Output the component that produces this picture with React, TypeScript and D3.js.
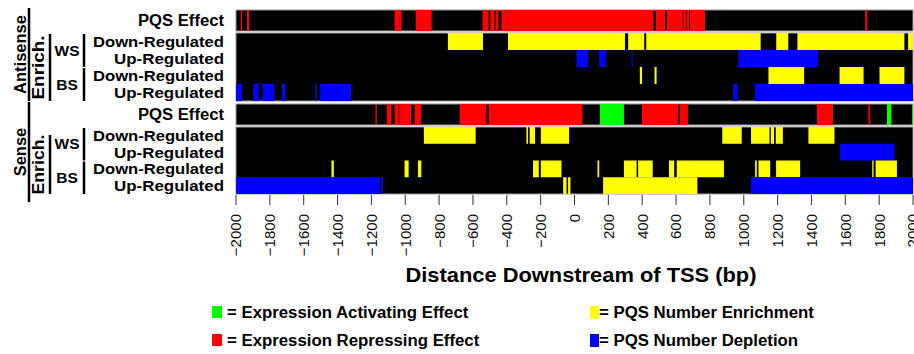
import React from 'react';
import * as d3 from 'd3';

// segments are [start, end] in bp relative to TSS
const asPqsRepressing: [number, number][] = [
  [-1972, -1964], [-1935, -1922], [-1063, -1022], [-938, -844], [-543, -508],
  [-497, -473], [-466, -449], [-432, 467], [481, 535], [546, 639], [643, 658],
  [662, 677], [682, 771], [1718, 1730],
];
const asPqsActivating: [number, number][] = [];

const asWsDownEnrich: [number, number][] = [
  [-748, -541], [-393, 298], [317, 412], [424, 1100], [1192, 1263], [1317, 1949], [1971, 2000],
];
const asWsUpDeplete: [number, number][] = [[12, 80], [146, 185], [337, 343], [968, 1438]];
const asBsDownEnrich: [number, number][] = [
  [386, 399], [473, 485], [1146, 1357], [1566, 1708], [1802, 1949],
];
const asBsUpDeplete: [number, number][] = [
  [-2000, -1965], [-1898, -1866], [-1842, -1773], [-1728, -1708], [-1531, -1523],
  [-1503, -1320], [938, 964], [1067, 2000],
];

const ssPqsRepressing: [number, number][] = [
  [-1176, -1168], [-1109, -1083], [-1063, -1040], [-1036, -965], [-945, -906],
  [-679, -521], [-507, 47], [398, 613], [623, 670], [1432, 1527], [1737, 1747],
];
const ssPqsActivating: [number, number][] = [[150, 292], [1846, 1872], [1995, 2000]];

const ssWsDownEnrich: [number, number][] = [
  [-890, -584], [-284, -275], [-265, -233], [-199, -32], [873, 988], [1043, 1152],
  [1160, 1179], [1189, 1231], [1382, 1536],
];
const ssWsUpDeplete: [number, number][] = [[1568, 1891]];
const ssBsDownEnrich: [number, number][] = [
  [-1436, -1422], [-1004, -980], [-925, -905], [-245, -211], [-199, -77], [136, 146],
  [292, 367], [376, 462], [558, 589], [604, 883], [1067, 1077], [1087, 1156],
  [1191, 1333], [1759, 1767], [1779, 1905],
];
const ssBsUpEnrich: [number, number][] = [[-67, -47], [-38, -24], [169, 726]];
const ssBsUpDeplete: [number, number][] = [[-2000, -1152], [-1142, -1132], [1043, 2000]];

const rowNames = ['Down-Regulated', 'Up-Regulated', 'Down-Regulated', 'Up-Regulated'];
const tickValues = d3.range(-2000, 2001, 200);

const COL = { green: '#00ff00', red: '#ff0000', yellow: '#ffff00', blue: '#0000ff' };

const legendItems = [
  { label: '= Expression Activating Effect', color: COL.green, col: 0, row: 0 },
  { label: '= Expression Repressing Effect', color: COL.red, col: 0, row: 1 },
  { label: '= PQS Number Enrichment', color: COL.yellow, col: 1, row: 0 },
  { label: '= PQS Number Depletion', color: COL.blue, col: 1, row: 1 },
];

const FONT = 'Liberation Sans, Arial, Helvetica, sans-serif';

export default function App() {
  const width = 914, height = 354;
  const x = d3.scaleLinear().domain([-2000, 2000]).range([236, 913]);

  const blocks = [
    {
      name: 'Antisense', pqsTop: 10, pqsBot: 31, enTop: 33, enBot: 101,
      pqs: [asPqsRepressing, asPqsActivating],
      rows: [
        [[asWsDownEnrich, COL.yellow]],
        [[asWsUpDeplete, COL.blue]],
        [[asBsDownEnrich, COL.yellow]],
        [[asBsUpDeplete, COL.blue]],
      ] as [[number, number][], string][][],
    },
    {
      name: 'Sense', pqsTop: 104, pqsBot: 125, enTop: 127, enBot: 194,
      pqs: [ssPqsRepressing, ssPqsActivating],
      rows: [
        [[ssWsDownEnrich, COL.yellow]],
        [[ssWsUpDeplete, COL.blue]],
        [[ssBsDownEnrich, COL.yellow]],
        [[ssBsUpEnrich, COL.yellow], [ssBsUpDeplete, COL.blue]],
      ] as [[number, number][], string][][],
    },
  ];

  const seg = (s: [number, number], y0: number, h: number, c: string, k: string) => (
    <rect key={k} x={x(s[0])} y={y0} width={Math.max(0.8, x(s[1]) - x(s[0]))} height={h} fill={c} />
  );

  return (
    <svg width={width} height={height} style={{ display: 'block', position: 'absolute', left: 0, top: 0 }}
      fontFamily={FONT}>
      <rect width={width} height={height} fill="#fff" />
      {blocks.map((b, bi) => {
        const band = d3.scaleBand<number>().domain([0, 1, 2, 3]).range([b.enTop, b.enBot]);
        const bw = band.bandwidth();
        return (
          <g key={bi}>
            {/* PQS effect strip */}
            <rect x={x(-2000)} y={b.pqsTop} width={x(2000) - x(-2000)} height={b.pqsBot - b.pqsTop}
              fill="#000" stroke="#9a9a9a" strokeWidth={1} />
            {b.pqs[0].map((s, i) => seg(s, b.pqsTop, b.pqsBot - b.pqsTop, COL.red, 'r' + i))}
            {b.pqs[1].map((s, i) => seg(s, b.pqsTop, b.pqsBot - b.pqsTop, COL.green, 'g' + i))}
            <text x={224} y={(b.pqsTop + b.pqsBot) / 2} dy="0.36em" textAnchor="end"
              fontSize={16} fontWeight="bold" textLength={86} lengthAdjust="spacingAndGlyphs">PQS Effect</text>

            {/* enrichment strip */}
            <rect x={x(-2000)} y={b.enTop} width={x(2000) - x(-2000)} height={b.enBot - b.enTop}
              fill="#000" stroke="#9a9a9a" strokeWidth={1} />
            {b.rows.map((r, ri) =>
              r.map(([segs, c], si) =>
                segs.map((s, i) => seg(s, band(ri)!, bw, c, `${ri}-${si}-${i}`))
              )
            )}
            {rowNames.map((n, ri) => (
              <text key={ri} x={224} y={band(ri)! + bw / 2} dy="0.36em" textAnchor="end"
                fontSize={15.5} fontWeight="bold" textLength={ri % 2 ? 110 : 131}
                lengthAdjust="spacingAndGlyphs">{n}</text>
            ))}

            {/* bracket labels */}
            <line x1={29} x2={29} y1={b.pqsTop - 2} y2={b.enBot + (bi ? 8 : 0)} stroke="#000" strokeWidth={2.5} />
            <text transform={`translate(20,${(b.pqsTop - 2 + b.enBot + (bi ? 8 : 0)) / 2}) rotate(-90)`}
              dy="0.36em" textAnchor="middle" fontSize={16.5} fontWeight="bold">{b.name}</text>
            <line x1={50} x2={50} y1={b.enTop + (bi ? 8 : 1)} y2={b.enBot} stroke="#000" strokeWidth={2.5} />
            <text transform={`translate(38,${(b.enTop + (bi ? 8 : 1) + b.enBot) / 2}) rotate(-90)`}
              dy="0.36em" textAnchor="middle" fontSize={16} fontWeight="bold"
              textLength={bi ? 60 : 64} lengthAdjust="spacingAndGlyphs">Enrich.</text>
            <line x1={84} x2={84} y1={band(0)! + 1} y2={band(1)! + bw} stroke="#000" strokeWidth={2.5} />
            <line x1={84} x2={84} y1={band(2)! + 1} y2={band(3)! + bw} stroke="#000" strokeWidth={2.5} />
            <text x={67} y={band(1)!} dy="0.36em" textAnchor="middle" fontSize={15.5} fontWeight="bold">WS</text>
            <text x={67} y={band(3)!} dy="0.36em" textAnchor="middle" fontSize={15.5} fontWeight="bold">BS</text>
          </g>
        );
      })}

      {/* x axis */}
      <g>
        {tickValues.map((t) => (
          <g key={t} transform={`translate(${x(t)},0)`}>
            <line y1={195} y2={205} stroke="#333" strokeWidth={1} />
            <text transform="translate(0,214) rotate(-90)" dy="0.36em" textAnchor="end"
              fontSize={15} fill="#111">{d3.format('d')(t)}</text>
          </g>
        ))}
        <text x={581} y={282} textAnchor="middle" fontSize={21} fontWeight="bold"
          textLength={351} lengthAdjust="spacingAndGlyphs">
          Distance Downstream of TSS (bp)
        </text>
      </g>

      {/* legend */}
      {legendItems.map((d, i) => {
        const lx = d.col ? 590 : 212;
        const ly = d.row ? 334 : 306;
        return (
          <g key={i}>
            <rect x={lx} y={ly} width={d.col ? 9 : 10} height={d.col ? 13 : 12} fill={d.color} />
            <text x={lx + (d.col ? 9 : 15)} y={ly + 12} fontSize={16.8} fontWeight="bold">{d.label}</text>
          </g>
        );
      })}
    </svg>
  );
}
